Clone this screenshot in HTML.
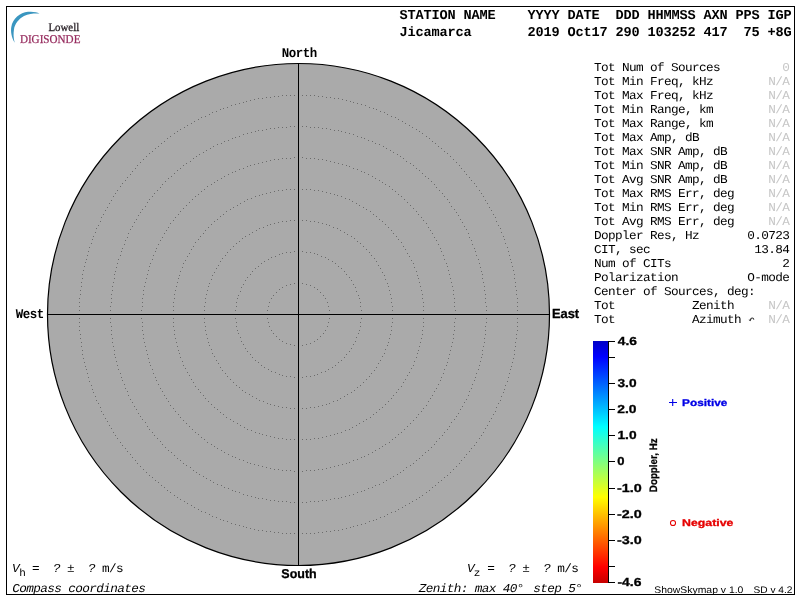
<!DOCTYPE html><html><head><meta charset="utf-8"><style>html,body{margin:0;padding:0;background:#fff;width:800px;height:600px;overflow:hidden}svg{display:block;will-change:transform;text-rendering:geometricPrecision}.m{font-family:"Liberation Mono",monospace}.s{font-family:"Liberation Sans",sans-serif}.r{font-family:"Liberation Serif",serif}</style></head><body>
<svg width="800" height="600" viewBox="0 0 800 600">
<rect x="0" y="0" width="800" height="600" fill="#fff"/>
<path d="M14.7 42.7 C11.5 38 10.5 31 11.3 27 C12.5 19 20 12.5 28 11.8 C33 11.3 37 12.2 39.5 13.5 C35 13.4 29 13.3 24 16 C18.5 19 14.8 24 14 29.3 C13.3 33.5 13.4 38 14.7 42.7 Z" fill="#3a96c0"/>
<text class="r" x="48.49" y="31" font-size="11.61" textLength="30.73" lengthAdjust="spacingAndGlyphs" fill="#2a2228" stroke="#2a2228" stroke-width="0.3" xml:space="preserve">Lowell</text>
<text class="r" x="19.88" y="43" font-size="11.91" textLength="60.57" lengthAdjust="spacingAndGlyphs" fill="#962b5e" stroke="#962b5e" stroke-width="0.25" xml:space="preserve">DIGISONDE</text>
<text class="m" x="399.6" y="19" font-size="13.6" font-weight="bold" letter-spacing="-0.160" xml:space="preserve">STATION NAME    YYYY DATE  DDD HHMMSS AXN PPS IGP</text>
<text class="m" x="399.6" y="36" font-size="13.6" font-weight="bold" letter-spacing="-0.160" xml:space="preserve">Jicamarca       2019 Oct17 290 103252 417  75 +8G</text>
<circle cx="298.5" cy="314.5" r="251" fill="#aaaaaa" stroke="none"/>
<path d="M329 314h1v1h-1zM329 310h1v1h-1zM328 306h1v1h-1zM327 302h1v1h-1zM325 298h1v1h-1zM323 295h1v1h-1zM320 292h1v1h-1zM317 289h1v1h-1zM314 287h1v1h-1zM310 285h1v1h-1zM306 284h1v1h-1zM302 283h1v1h-1zM298 283h1v1h-1zM294 283h1v1h-1zM290 284h1v1h-1zM286 285h1v1h-1zM282 287h1v1h-1zM279 289h1v1h-1zM276 292h1v1h-1zM273 295h1v1h-1zM271 298h1v1h-1zM269 302h1v1h-1zM268 306h1v1h-1zM267 310h1v1h-1zM267 314h1v1h-1zM267 318h1v1h-1zM268 322h1v1h-1zM269 326h1v1h-1zM271 330h1v1h-1zM273 333h1v1h-1zM276 336h1v1h-1zM279 339h1v1h-1zM282 341h1v1h-1zM286 343h1v1h-1zM290 344h1v1h-1zM294 345h1v1h-1zM298 345h1v1h-1zM302 345h1v1h-1zM306 344h1v1h-1zM310 343h1v1h-1zM314 341h1v1h-1zM317 339h1v1h-1zM320 336h1v1h-1zM323 333h1v1h-1zM325 330h1v1h-1zM327 326h1v1h-1zM328 322h1v1h-1zM329 318h1v1h-1zM361 314h1v1h-1zM361 310h1v1h-1zM360 306h1v1h-1zM360 302h1v1h-1zM359 298h1v1h-1zM358 295h1v1h-1zM356 291h1v1h-1zM355 287h1v1h-1zM353 284h1v1h-1zM351 280h1v1h-1zM349 277h1v1h-1zM346 274h1v1h-1zM344 271h1v1h-1zM341 268h1v1h-1zM338 266h1v1h-1zM335 263h1v1h-1zM332 261h1v1h-1zM328 259h1v1h-1zM325 257h1v1h-1zM321 256h1v1h-1zM317 254h1v1h-1zM314 253h1v1h-1zM310 252h1v1h-1zM306 252h1v1h-1zM302 251h1v1h-1zM298 251h1v1h-1zM294 251h1v1h-1zM290 252h1v1h-1zM286 252h1v1h-1zM282 253h1v1h-1zM279 254h1v1h-1zM275 256h1v1h-1zM271 257h1v1h-1zM268 259h1v1h-1zM264 261h1v1h-1zM261 263h1v1h-1zM258 266h1v1h-1zM255 268h1v1h-1zM252 271h1v1h-1zM250 274h1v1h-1zM247 277h1v1h-1zM245 280h1v1h-1zM243 284h1v1h-1zM241 287h1v1h-1zM240 291h1v1h-1zM238 295h1v1h-1zM237 298h1v1h-1zM236 302h1v1h-1zM236 306h1v1h-1zM235 310h1v1h-1zM235 314h1v1h-1zM235 318h1v1h-1zM236 322h1v1h-1zM236 326h1v1h-1zM237 330h1v1h-1zM238 333h1v1h-1zM240 337h1v1h-1zM241 341h1v1h-1zM243 344h1v1h-1zM245 348h1v1h-1zM247 351h1v1h-1zM250 354h1v1h-1zM252 357h1v1h-1zM255 360h1v1h-1zM258 362h1v1h-1zM261 365h1v1h-1zM264 367h1v1h-1zM268 369h1v1h-1zM271 371h1v1h-1zM275 372h1v1h-1zM279 374h1v1h-1zM282 375h1v1h-1zM286 376h1v1h-1zM290 376h1v1h-1zM294 377h1v1h-1zM298 377h1v1h-1zM302 377h1v1h-1zM306 376h1v1h-1zM310 376h1v1h-1zM314 375h1v1h-1zM317 374h1v1h-1zM321 372h1v1h-1zM325 371h1v1h-1zM328 369h1v1h-1zM332 367h1v1h-1zM335 365h1v1h-1zM338 362h1v1h-1zM341 360h1v1h-1zM344 357h1v1h-1zM346 354h1v1h-1zM349 351h1v1h-1zM351 348h1v1h-1zM353 344h1v1h-1zM355 341h1v1h-1zM356 337h1v1h-1zM358 333h1v1h-1zM359 330h1v1h-1zM360 326h1v1h-1zM360 322h1v1h-1zM361 318h1v1h-1zM392 314h1v1h-1zM392 310h1v1h-1zM392 306h1v1h-1zM391 302h1v1h-1zM391 298h1v1h-1zM390 294h1v1h-1zM389 290h1v1h-1zM388 286h1v1h-1zM387 283h1v1h-1zM385 279h1v1h-1zM384 275h1v1h-1zM382 272h1v1h-1zM380 268h1v1h-1zM378 265h1v1h-1zM376 261h1v1h-1zM374 258h1v1h-1zM371 255h1v1h-1zM369 252h1v1h-1zM366 249h1v1h-1zM363 246h1v1h-1zM360 243h1v1h-1zM357 241h1v1h-1zM354 238h1v1h-1zM351 236h1v1h-1zM347 234h1v1h-1zM344 232h1v1h-1zM340 230h1v1h-1zM337 228h1v1h-1zM333 227h1v1h-1zM329 225h1v1h-1zM326 224h1v1h-1zM322 223h1v1h-1zM318 222h1v1h-1zM314 221h1v1h-1zM310 221h1v1h-1zM306 220h1v1h-1zM302 220h1v1h-1zM298 220h1v1h-1zM294 220h1v1h-1zM290 220h1v1h-1zM286 221h1v1h-1zM282 221h1v1h-1zM278 222h1v1h-1zM274 223h1v1h-1zM270 224h1v1h-1zM267 225h1v1h-1zM263 227h1v1h-1zM259 228h1v1h-1zM256 230h1v1h-1zM252 232h1v1h-1zM249 234h1v1h-1zM245 236h1v1h-1zM242 238h1v1h-1zM239 241h1v1h-1zM236 243h1v1h-1zM233 246h1v1h-1zM230 249h1v1h-1zM227 252h1v1h-1zM225 255h1v1h-1zM222 258h1v1h-1zM220 261h1v1h-1zM218 265h1v1h-1zM216 268h1v1h-1zM214 272h1v1h-1zM212 275h1v1h-1zM211 279h1v1h-1zM209 283h1v1h-1zM208 286h1v1h-1zM207 290h1v1h-1zM206 294h1v1h-1zM205 298h1v1h-1zM205 302h1v1h-1zM204 306h1v1h-1zM204 310h1v1h-1zM204 314h1v1h-1zM204 318h1v1h-1zM204 322h1v1h-1zM205 326h1v1h-1zM205 330h1v1h-1zM206 334h1v1h-1zM207 338h1v1h-1zM208 342h1v1h-1zM209 345h1v1h-1zM211 349h1v1h-1zM212 353h1v1h-1zM214 356h1v1h-1zM216 360h1v1h-1zM218 363h1v1h-1zM220 367h1v1h-1zM222 370h1v1h-1zM225 373h1v1h-1zM227 376h1v1h-1zM230 379h1v1h-1zM233 382h1v1h-1zM236 385h1v1h-1zM239 387h1v1h-1zM242 390h1v1h-1zM245 392h1v1h-1zM249 394h1v1h-1zM252 396h1v1h-1zM256 398h1v1h-1zM259 400h1v1h-1zM263 401h1v1h-1zM267 403h1v1h-1zM270 404h1v1h-1zM274 405h1v1h-1zM278 406h1v1h-1zM282 407h1v1h-1zM286 407h1v1h-1zM290 408h1v1h-1zM294 408h1v1h-1zM298 408h1v1h-1zM302 408h1v1h-1zM306 408h1v1h-1zM310 407h1v1h-1zM314 407h1v1h-1zM318 406h1v1h-1zM322 405h1v1h-1zM326 404h1v1h-1zM329 403h1v1h-1zM333 401h1v1h-1zM337 400h1v1h-1zM340 398h1v1h-1zM344 396h1v1h-1zM347 394h1v1h-1zM351 392h1v1h-1zM354 390h1v1h-1zM357 387h1v1h-1zM360 385h1v1h-1zM363 382h1v1h-1zM366 379h1v1h-1zM369 376h1v1h-1zM371 373h1v1h-1zM374 370h1v1h-1zM376 367h1v1h-1zM378 363h1v1h-1zM380 360h1v1h-1zM382 356h1v1h-1zM384 353h1v1h-1zM385 349h1v1h-1zM387 345h1v1h-1zM388 342h1v1h-1zM389 338h1v1h-1zM390 334h1v1h-1zM391 330h1v1h-1zM391 326h1v1h-1zM392 322h1v1h-1zM392 318h1v1h-1zM423 314h1v1h-1zM423 310h1v1h-1zM423 306h1v1h-1zM423 302h1v1h-1zM422 298h1v1h-1zM422 294h1v1h-1zM421 290h1v1h-1zM420 286h1v1h-1zM419 282h1v1h-1zM418 278h1v1h-1zM417 275h1v1h-1zM416 271h1v1h-1zM414 267h1v1h-1zM413 263h1v1h-1zM411 260h1v1h-1zM409 256h1v1h-1zM407 253h1v1h-1zM405 249h1v1h-1zM403 246h1v1h-1zM401 242h1v1h-1zM398 239h1v1h-1zM396 236h1v1h-1zM393 233h1v1h-1zM391 230h1v1h-1zM388 227h1v1h-1zM385 224h1v1h-1zM382 221h1v1h-1zM379 219h1v1h-1zM376 216h1v1h-1zM373 214h1v1h-1zM370 211h1v1h-1zM366 209h1v1h-1zM363 207h1v1h-1zM359 205h1v1h-1zM356 203h1v1h-1zM352 201h1v1h-1zM349 199h1v1h-1zM345 198h1v1h-1zM341 196h1v1h-1zM337 195h1v1h-1zM334 194h1v1h-1zM330 193h1v1h-1zM326 192h1v1h-1zM322 191h1v1h-1zM318 190h1v1h-1zM314 190h1v1h-1zM310 189h1v1h-1zM306 189h1v1h-1zM302 189h1v1h-1zM298 189h1v1h-1zM294 189h1v1h-1zM290 189h1v1h-1zM286 189h1v1h-1zM282 190h1v1h-1zM278 190h1v1h-1zM274 191h1v1h-1zM270 192h1v1h-1zM266 193h1v1h-1zM262 194h1v1h-1zM259 195h1v1h-1zM255 196h1v1h-1zM251 198h1v1h-1zM247 199h1v1h-1zM244 201h1v1h-1zM240 203h1v1h-1zM237 205h1v1h-1zM233 207h1v1h-1zM230 209h1v1h-1zM226 211h1v1h-1zM223 214h1v1h-1zM220 216h1v1h-1zM217 219h1v1h-1zM214 221h1v1h-1zM211 224h1v1h-1zM208 227h1v1h-1zM205 230h1v1h-1zM203 233h1v1h-1zM200 236h1v1h-1zM198 239h1v1h-1zM195 242h1v1h-1zM193 246h1v1h-1zM191 249h1v1h-1zM189 253h1v1h-1zM187 256h1v1h-1zM185 260h1v1h-1zM183 263h1v1h-1zM182 267h1v1h-1zM180 271h1v1h-1zM179 275h1v1h-1zM178 278h1v1h-1zM177 282h1v1h-1zM176 286h1v1h-1zM175 290h1v1h-1zM174 294h1v1h-1zM174 298h1v1h-1zM173 302h1v1h-1zM173 306h1v1h-1zM173 310h1v1h-1zM173 314h1v1h-1zM173 318h1v1h-1zM173 322h1v1h-1zM173 326h1v1h-1zM174 330h1v1h-1zM174 334h1v1h-1zM175 338h1v1h-1zM176 342h1v1h-1zM177 346h1v1h-1zM178 350h1v1h-1zM179 353h1v1h-1zM180 357h1v1h-1zM182 361h1v1h-1zM183 365h1v1h-1zM185 368h1v1h-1zM187 372h1v1h-1zM189 375h1v1h-1zM191 379h1v1h-1zM193 382h1v1h-1zM195 386h1v1h-1zM198 389h1v1h-1zM200 392h1v1h-1zM203 395h1v1h-1zM205 398h1v1h-1zM208 401h1v1h-1zM211 404h1v1h-1zM214 407h1v1h-1zM217 409h1v1h-1zM220 412h1v1h-1zM223 414h1v1h-1zM226 417h1v1h-1zM230 419h1v1h-1zM233 421h1v1h-1zM237 423h1v1h-1zM240 425h1v1h-1zM244 427h1v1h-1zM247 429h1v1h-1zM251 430h1v1h-1zM255 432h1v1h-1zM259 433h1v1h-1zM262 434h1v1h-1zM266 435h1v1h-1zM270 436h1v1h-1zM274 437h1v1h-1zM278 438h1v1h-1zM282 438h1v1h-1zM286 439h1v1h-1zM290 439h1v1h-1zM294 439h1v1h-1zM298 439h1v1h-1zM302 439h1v1h-1zM306 439h1v1h-1zM310 439h1v1h-1zM314 438h1v1h-1zM318 438h1v1h-1zM322 437h1v1h-1zM326 436h1v1h-1zM330 435h1v1h-1zM334 434h1v1h-1zM337 433h1v1h-1zM341 432h1v1h-1zM345 430h1v1h-1zM349 429h1v1h-1zM352 427h1v1h-1zM356 425h1v1h-1zM359 423h1v1h-1zM363 421h1v1h-1zM366 419h1v1h-1zM370 417h1v1h-1zM373 414h1v1h-1zM376 412h1v1h-1zM379 409h1v1h-1zM382 407h1v1h-1zM385 404h1v1h-1zM388 401h1v1h-1zM391 398h1v1h-1zM393 395h1v1h-1zM396 392h1v1h-1zM398 389h1v1h-1zM401 386h1v1h-1zM403 382h1v1h-1zM405 379h1v1h-1zM407 375h1v1h-1zM409 372h1v1h-1zM411 368h1v1h-1zM413 365h1v1h-1zM414 361h1v1h-1zM416 357h1v1h-1zM417 353h1v1h-1zM418 350h1v1h-1zM419 346h1v1h-1zM420 342h1v1h-1zM421 338h1v1h-1zM422 334h1v1h-1zM422 330h1v1h-1zM423 326h1v1h-1zM423 322h1v1h-1zM423 318h1v1h-1zM455 314h1v1h-1zM455 310h1v1h-1zM454 306h1v1h-1zM454 302h1v1h-1zM454 298h1v1h-1zM453 294h1v1h-1zM453 290h1v1h-1zM452 286h1v1h-1zM451 282h1v1h-1zM450 278h1v1h-1zM449 274h1v1h-1zM448 270h1v1h-1zM447 266h1v1h-1zM446 263h1v1h-1zM444 259h1v1h-1zM443 255h1v1h-1zM441 251h1v1h-1zM440 248h1v1h-1zM438 244h1v1h-1zM436 240h1v1h-1zM434 237h1v1h-1zM432 233h1v1h-1zM430 230h1v1h-1zM428 227h1v1h-1zM426 223h1v1h-1zM423 220h1v1h-1zM421 217h1v1h-1zM418 214h1v1h-1zM416 211h1v1h-1zM413 208h1v1h-1zM410 205h1v1h-1zM407 202h1v1h-1zM404 199h1v1h-1zM401 196h1v1h-1zM398 194h1v1h-1zM395 191h1v1h-1zM392 189h1v1h-1zM389 186h1v1h-1zM385 184h1v1h-1zM382 182h1v1h-1zM379 180h1v1h-1zM375 178h1v1h-1zM372 176h1v1h-1zM368 174h1v1h-1zM364 172h1v1h-1zM361 171h1v1h-1zM357 169h1v1h-1zM353 168h1v1h-1zM349 166h1v1h-1zM346 165h1v1h-1zM342 164h1v1h-1zM338 163h1v1h-1zM334 162h1v1h-1zM330 161h1v1h-1zM326 160h1v1h-1zM322 159h1v1h-1zM318 159h1v1h-1zM314 158h1v1h-1zM310 158h1v1h-1zM306 158h1v1h-1zM302 157h1v1h-1zM298 157h1v1h-1zM294 157h1v1h-1zM290 158h1v1h-1zM286 158h1v1h-1zM282 158h1v1h-1zM278 159h1v1h-1zM274 159h1v1h-1zM270 160h1v1h-1zM266 161h1v1h-1zM262 162h1v1h-1zM258 163h1v1h-1zM254 164h1v1h-1zM250 165h1v1h-1zM247 166h1v1h-1zM243 168h1v1h-1zM239 169h1v1h-1zM235 171h1v1h-1zM232 172h1v1h-1zM228 174h1v1h-1zM224 176h1v1h-1zM221 178h1v1h-1zM217 180h1v1h-1zM214 182h1v1h-1zM211 184h1v1h-1zM207 186h1v1h-1zM204 189h1v1h-1zM201 191h1v1h-1zM198 194h1v1h-1zM195 196h1v1h-1zM192 199h1v1h-1zM189 202h1v1h-1zM186 205h1v1h-1zM183 208h1v1h-1zM180 211h1v1h-1zM178 214h1v1h-1zM175 217h1v1h-1zM173 220h1v1h-1zM170 223h1v1h-1zM168 227h1v1h-1zM166 230h1v1h-1zM164 233h1v1h-1zM162 237h1v1h-1zM160 240h1v1h-1zM158 244h1v1h-1zM156 248h1v1h-1zM155 251h1v1h-1zM153 255h1v1h-1zM152 259h1v1h-1zM150 263h1v1h-1zM149 266h1v1h-1zM148 270h1v1h-1zM147 274h1v1h-1zM146 278h1v1h-1zM145 282h1v1h-1zM144 286h1v1h-1zM143 290h1v1h-1zM143 294h1v1h-1zM142 298h1v1h-1zM142 302h1v1h-1zM142 306h1v1h-1zM141 310h1v1h-1zM141 314h1v1h-1zM141 318h1v1h-1zM142 322h1v1h-1zM142 326h1v1h-1zM142 330h1v1h-1zM143 334h1v1h-1zM143 338h1v1h-1zM144 342h1v1h-1zM145 346h1v1h-1zM146 350h1v1h-1zM147 354h1v1h-1zM148 358h1v1h-1zM149 362h1v1h-1zM150 365h1v1h-1zM152 369h1v1h-1zM153 373h1v1h-1zM155 377h1v1h-1zM156 380h1v1h-1zM158 384h1v1h-1zM160 388h1v1h-1zM162 391h1v1h-1zM164 395h1v1h-1zM166 398h1v1h-1zM168 401h1v1h-1zM170 405h1v1h-1zM173 408h1v1h-1zM175 411h1v1h-1zM178 414h1v1h-1zM180 417h1v1h-1zM183 420h1v1h-1zM186 423h1v1h-1zM189 426h1v1h-1zM192 429h1v1h-1zM195 432h1v1h-1zM198 434h1v1h-1zM201 437h1v1h-1zM204 439h1v1h-1zM207 442h1v1h-1zM211 444h1v1h-1zM214 446h1v1h-1zM217 448h1v1h-1zM221 450h1v1h-1zM224 452h1v1h-1zM228 454h1v1h-1zM232 456h1v1h-1zM235 457h1v1h-1zM239 459h1v1h-1zM243 460h1v1h-1zM247 462h1v1h-1zM250 463h1v1h-1zM254 464h1v1h-1zM258 465h1v1h-1zM262 466h1v1h-1zM266 467h1v1h-1zM270 468h1v1h-1zM274 469h1v1h-1zM278 469h1v1h-1zM282 470h1v1h-1zM286 470h1v1h-1zM290 470h1v1h-1zM294 471h1v1h-1zM298 471h1v1h-1zM302 471h1v1h-1zM306 470h1v1h-1zM310 470h1v1h-1zM314 470h1v1h-1zM318 469h1v1h-1zM322 469h1v1h-1zM326 468h1v1h-1zM330 467h1v1h-1zM334 466h1v1h-1zM338 465h1v1h-1zM342 464h1v1h-1zM346 463h1v1h-1zM349 462h1v1h-1zM353 460h1v1h-1zM357 459h1v1h-1zM361 457h1v1h-1zM364 456h1v1h-1zM368 454h1v1h-1zM372 452h1v1h-1zM375 450h1v1h-1zM379 448h1v1h-1zM382 446h1v1h-1zM385 444h1v1h-1zM389 442h1v1h-1zM392 439h1v1h-1zM395 437h1v1h-1zM398 434h1v1h-1zM401 432h1v1h-1zM404 429h1v1h-1zM407 426h1v1h-1zM410 423h1v1h-1zM413 420h1v1h-1zM416 417h1v1h-1zM418 414h1v1h-1zM421 411h1v1h-1zM423 408h1v1h-1zM426 405h1v1h-1zM428 401h1v1h-1zM430 398h1v1h-1zM432 395h1v1h-1zM434 391h1v1h-1zM436 388h1v1h-1zM438 384h1v1h-1zM440 380h1v1h-1zM441 377h1v1h-1zM443 373h1v1h-1zM444 369h1v1h-1zM446 365h1v1h-1zM447 362h1v1h-1zM448 358h1v1h-1zM449 354h1v1h-1zM450 350h1v1h-1zM451 346h1v1h-1zM452 342h1v1h-1zM453 338h1v1h-1zM453 334h1v1h-1zM454 330h1v1h-1zM454 326h1v1h-1zM454 322h1v1h-1zM455 318h1v1h-1zM486 314h1v1h-1zM486 310h1v1h-1zM486 306h1v1h-1zM485 302h1v1h-1zM485 298h1v1h-1zM485 294h1v1h-1zM484 290h1v1h-1zM484 286h1v1h-1zM483 282h1v1h-1zM482 278h1v1h-1zM482 274h1v1h-1zM481 271h1v1h-1zM480 267h1v1h-1zM479 263h1v1h-1zM478 259h1v1h-1zM476 255h1v1h-1zM475 251h1v1h-1zM474 248h1v1h-1zM472 244h1v1h-1zM471 240h1v1h-1zM469 237h1v1h-1zM468 233h1v1h-1zM466 229h1v1h-1zM464 226h1v1h-1zM462 222h1v1h-1zM460 219h1v1h-1zM458 215h1v1h-1zM456 212h1v1h-1zM454 209h1v1h-1zM451 206h1v1h-1zM449 202h1v1h-1zM447 199h1v1h-1zM444 196h1v1h-1zM442 193h1v1h-1zM439 190h1v1h-1zM436 187h1v1h-1zM434 184h1v1h-1zM431 181h1v1h-1zM428 178h1v1h-1zM425 176h1v1h-1zM422 173h1v1h-1zM419 170h1v1h-1zM416 168h1v1h-1zM413 165h1v1h-1zM410 163h1v1h-1zM406 161h1v1h-1zM403 158h1v1h-1zM400 156h1v1h-1zM397 154h1v1h-1zM393 152h1v1h-1zM390 150h1v1h-1zM386 148h1v1h-1zM383 146h1v1h-1zM379 144h1v1h-1zM375 143h1v1h-1zM372 141h1v1h-1zM368 140h1v1h-1zM364 138h1v1h-1zM361 137h1v1h-1zM357 136h1v1h-1zM353 134h1v1h-1zM349 133h1v1h-1zM345 132h1v1h-1zM341 131h1v1h-1zM338 130h1v1h-1zM334 130h1v1h-1zM330 129h1v1h-1zM326 128h1v1h-1zM322 128h1v1h-1zM318 127h1v1h-1zM314 127h1v1h-1zM310 127h1v1h-1zM306 126h1v1h-1zM302 126h1v1h-1zM298 126h1v1h-1zM294 126h1v1h-1zM290 126h1v1h-1zM286 127h1v1h-1zM282 127h1v1h-1zM278 127h1v1h-1zM274 128h1v1h-1zM270 128h1v1h-1zM266 129h1v1h-1zM262 130h1v1h-1zM258 130h1v1h-1zM255 131h1v1h-1zM251 132h1v1h-1zM247 133h1v1h-1zM243 134h1v1h-1zM239 136h1v1h-1zM235 137h1v1h-1zM232 138h1v1h-1zM228 140h1v1h-1zM224 141h1v1h-1zM221 143h1v1h-1zM217 144h1v1h-1zM213 146h1v1h-1zM210 148h1v1h-1zM206 150h1v1h-1zM203 152h1v1h-1zM199 154h1v1h-1zM196 156h1v1h-1zM193 158h1v1h-1zM190 161h1v1h-1zM186 163h1v1h-1zM183 165h1v1h-1zM180 168h1v1h-1zM177 170h1v1h-1zM174 173h1v1h-1zM171 176h1v1h-1zM168 178h1v1h-1zM165 181h1v1h-1zM162 184h1v1h-1zM160 187h1v1h-1zM157 190h1v1h-1zM154 193h1v1h-1zM152 196h1v1h-1zM149 199h1v1h-1zM147 202h1v1h-1zM145 206h1v1h-1zM142 209h1v1h-1zM140 212h1v1h-1zM138 215h1v1h-1zM136 219h1v1h-1zM134 222h1v1h-1zM132 226h1v1h-1zM130 229h1v1h-1zM128 233h1v1h-1zM127 237h1v1h-1zM125 240h1v1h-1zM124 244h1v1h-1zM122 248h1v1h-1zM121 251h1v1h-1zM120 255h1v1h-1zM118 259h1v1h-1zM117 263h1v1h-1zM116 267h1v1h-1zM115 271h1v1h-1zM114 274h1v1h-1zM114 278h1v1h-1zM113 282h1v1h-1zM112 286h1v1h-1zM112 290h1v1h-1zM111 294h1v1h-1zM111 298h1v1h-1zM111 302h1v1h-1zM110 306h1v1h-1zM110 310h1v1h-1zM110 314h1v1h-1zM110 318h1v1h-1zM110 322h1v1h-1zM111 326h1v1h-1zM111 330h1v1h-1zM111 334h1v1h-1zM112 338h1v1h-1zM112 342h1v1h-1zM113 346h1v1h-1zM114 350h1v1h-1zM114 354h1v1h-1zM115 357h1v1h-1zM116 361h1v1h-1zM117 365h1v1h-1zM118 369h1v1h-1zM120 373h1v1h-1zM121 377h1v1h-1zM122 380h1v1h-1zM124 384h1v1h-1zM125 388h1v1h-1zM127 391h1v1h-1zM128 395h1v1h-1zM130 399h1v1h-1zM132 402h1v1h-1zM134 406h1v1h-1zM136 409h1v1h-1zM138 413h1v1h-1zM140 416h1v1h-1zM142 419h1v1h-1zM145 422h1v1h-1zM147 426h1v1h-1zM149 429h1v1h-1zM152 432h1v1h-1zM154 435h1v1h-1zM157 438h1v1h-1zM160 441h1v1h-1zM162 444h1v1h-1zM165 447h1v1h-1zM168 450h1v1h-1zM171 452h1v1h-1zM174 455h1v1h-1zM177 458h1v1h-1zM180 460h1v1h-1zM183 463h1v1h-1zM186 465h1v1h-1zM190 467h1v1h-1zM193 470h1v1h-1zM196 472h1v1h-1zM199 474h1v1h-1zM203 476h1v1h-1zM206 478h1v1h-1zM210 480h1v1h-1zM213 482h1v1h-1zM217 484h1v1h-1zM221 485h1v1h-1zM224 487h1v1h-1zM228 488h1v1h-1zM232 490h1v1h-1zM235 491h1v1h-1zM239 492h1v1h-1zM243 494h1v1h-1zM247 495h1v1h-1zM251 496h1v1h-1zM255 497h1v1h-1zM258 498h1v1h-1zM262 498h1v1h-1zM266 499h1v1h-1zM270 500h1v1h-1zM274 500h1v1h-1zM278 501h1v1h-1zM282 501h1v1h-1zM286 501h1v1h-1zM290 502h1v1h-1zM294 502h1v1h-1zM298 502h1v1h-1zM302 502h1v1h-1zM306 502h1v1h-1zM310 501h1v1h-1zM314 501h1v1h-1zM318 501h1v1h-1zM322 500h1v1h-1zM326 500h1v1h-1zM330 499h1v1h-1zM334 498h1v1h-1zM338 498h1v1h-1zM341 497h1v1h-1zM345 496h1v1h-1zM349 495h1v1h-1zM353 494h1v1h-1zM357 492h1v1h-1zM361 491h1v1h-1zM364 490h1v1h-1zM368 488h1v1h-1zM372 487h1v1h-1zM375 485h1v1h-1zM379 484h1v1h-1zM383 482h1v1h-1zM386 480h1v1h-1zM390 478h1v1h-1zM393 476h1v1h-1zM397 474h1v1h-1zM400 472h1v1h-1zM403 470h1v1h-1zM406 467h1v1h-1zM410 465h1v1h-1zM413 463h1v1h-1zM416 460h1v1h-1zM419 458h1v1h-1zM422 455h1v1h-1zM425 452h1v1h-1zM428 450h1v1h-1zM431 447h1v1h-1zM434 444h1v1h-1zM436 441h1v1h-1zM439 438h1v1h-1zM442 435h1v1h-1zM444 432h1v1h-1zM447 429h1v1h-1zM449 426h1v1h-1zM451 422h1v1h-1zM454 419h1v1h-1zM456 416h1v1h-1zM458 413h1v1h-1zM460 409h1v1h-1zM462 406h1v1h-1zM464 402h1v1h-1zM466 399h1v1h-1zM468 395h1v1h-1zM469 391h1v1h-1zM471 388h1v1h-1zM472 384h1v1h-1zM474 380h1v1h-1zM475 377h1v1h-1zM476 373h1v1h-1zM478 369h1v1h-1zM479 365h1v1h-1zM480 361h1v1h-1zM481 357h1v1h-1zM482 354h1v1h-1zM482 350h1v1h-1zM483 346h1v1h-1zM484 342h1v1h-1zM484 338h1v1h-1zM485 334h1v1h-1zM485 330h1v1h-1zM485 326h1v1h-1zM486 322h1v1h-1zM486 318h1v1h-1zM517 314h1v1h-1zM517 310h1v1h-1zM517 306h1v1h-1zM517 302h1v1h-1zM517 298h1v1h-1zM516 294h1v1h-1zM516 290h1v1h-1zM515 286h1v1h-1zM515 282h1v1h-1zM514 278h1v1h-1zM514 274h1v1h-1zM513 270h1v1h-1zM512 266h1v1h-1zM511 262h1v1h-1zM510 259h1v1h-1zM509 255h1v1h-1zM508 251h1v1h-1zM507 247h1v1h-1zM505 243h1v1h-1zM504 239h1v1h-1zM503 236h1v1h-1zM501 232h1v1h-1zM500 228h1v1h-1zM498 225h1v1h-1zM496 221h1v1h-1zM495 217h1v1h-1zM493 214h1v1h-1zM491 210h1v1h-1zM489 207h1v1h-1zM487 203h1v1h-1zM485 200h1v1h-1zM483 196h1v1h-1zM481 193h1v1h-1zM479 190h1v1h-1zM476 186h1v1h-1zM474 183h1v1h-1zM471 180h1v1h-1zM469 177h1v1h-1zM466 174h1v1h-1zM464 171h1v1h-1zM461 168h1v1h-1zM459 165h1v1h-1zM456 162h1v1h-1zM453 159h1v1h-1zM450 156h1v1h-1zM447 153h1v1h-1zM444 151h1v1h-1zM441 148h1v1h-1zM438 146h1v1h-1zM435 143h1v1h-1zM432 141h1v1h-1zM429 138h1v1h-1zM426 136h1v1h-1zM422 133h1v1h-1zM419 131h1v1h-1zM416 129h1v1h-1zM412 127h1v1h-1zM409 125h1v1h-1zM405 123h1v1h-1zM402 121h1v1h-1zM398 119h1v1h-1zM395 117h1v1h-1zM391 116h1v1h-1zM387 114h1v1h-1zM384 112h1v1h-1zM380 111h1v1h-1zM376 109h1v1h-1zM373 108h1v1h-1zM369 107h1v1h-1zM365 105h1v1h-1zM361 104h1v1h-1zM357 103h1v1h-1zM353 102h1v1h-1zM350 101h1v1h-1zM346 100h1v1h-1zM342 99h1v1h-1zM338 98h1v1h-1zM334 98h1v1h-1zM330 97h1v1h-1zM326 97h1v1h-1zM322 96h1v1h-1zM318 96h1v1h-1zM314 95h1v1h-1zM310 95h1v1h-1zM306 95h1v1h-1zM302 95h1v1h-1zM298 95h1v1h-1zM294 95h1v1h-1zM290 95h1v1h-1zM286 95h1v1h-1zM282 95h1v1h-1zM278 96h1v1h-1zM274 96h1v1h-1zM270 97h1v1h-1zM266 97h1v1h-1zM262 98h1v1h-1zM258 98h1v1h-1zM254 99h1v1h-1zM250 100h1v1h-1zM246 101h1v1h-1zM243 102h1v1h-1zM239 103h1v1h-1zM235 104h1v1h-1zM231 105h1v1h-1zM227 107h1v1h-1zM223 108h1v1h-1zM220 109h1v1h-1zM216 111h1v1h-1zM212 112h1v1h-1zM209 114h1v1h-1zM205 116h1v1h-1zM201 117h1v1h-1zM198 119h1v1h-1zM194 121h1v1h-1zM191 123h1v1h-1zM187 125h1v1h-1zM184 127h1v1h-1zM180 129h1v1h-1zM177 131h1v1h-1zM174 133h1v1h-1zM170 136h1v1h-1zM167 138h1v1h-1zM164 141h1v1h-1zM161 143h1v1h-1zM158 146h1v1h-1zM155 148h1v1h-1zM152 151h1v1h-1zM149 153h1v1h-1zM146 156h1v1h-1zM143 159h1v1h-1zM140 162h1v1h-1zM137 165h1v1h-1zM135 168h1v1h-1zM132 171h1v1h-1zM130 174h1v1h-1zM127 177h1v1h-1zM125 180h1v1h-1zM122 183h1v1h-1zM120 186h1v1h-1zM117 190h1v1h-1zM115 193h1v1h-1zM113 196h1v1h-1zM111 200h1v1h-1zM109 203h1v1h-1zM107 207h1v1h-1zM105 210h1v1h-1zM103 214h1v1h-1zM101 217h1v1h-1zM100 221h1v1h-1zM98 225h1v1h-1zM96 228h1v1h-1zM95 232h1v1h-1zM93 236h1v1h-1zM92 239h1v1h-1zM91 243h1v1h-1zM89 247h1v1h-1zM88 251h1v1h-1zM87 255h1v1h-1zM86 259h1v1h-1zM85 262h1v1h-1zM84 266h1v1h-1zM83 270h1v1h-1zM82 274h1v1h-1zM82 278h1v1h-1zM81 282h1v1h-1zM81 286h1v1h-1zM80 290h1v1h-1zM80 294h1v1h-1zM79 298h1v1h-1zM79 302h1v1h-1zM79 306h1v1h-1zM79 310h1v1h-1zM79 314h1v1h-1zM79 318h1v1h-1zM79 322h1v1h-1zM79 326h1v1h-1zM79 330h1v1h-1zM80 334h1v1h-1zM80 338h1v1h-1zM81 342h1v1h-1zM81 346h1v1h-1zM82 350h1v1h-1zM82 354h1v1h-1zM83 358h1v1h-1zM84 362h1v1h-1zM85 366h1v1h-1zM86 369h1v1h-1zM87 373h1v1h-1zM88 377h1v1h-1zM89 381h1v1h-1zM91 385h1v1h-1zM92 389h1v1h-1zM93 392h1v1h-1zM95 396h1v1h-1zM96 400h1v1h-1zM98 403h1v1h-1zM100 407h1v1h-1zM101 411h1v1h-1zM103 414h1v1h-1zM105 418h1v1h-1zM107 421h1v1h-1zM109 425h1v1h-1zM111 428h1v1h-1zM113 432h1v1h-1zM115 435h1v1h-1zM117 438h1v1h-1zM120 442h1v1h-1zM122 445h1v1h-1zM125 448h1v1h-1zM127 451h1v1h-1zM130 454h1v1h-1zM132 457h1v1h-1zM135 460h1v1h-1zM137 463h1v1h-1zM140 466h1v1h-1zM143 469h1v1h-1zM146 472h1v1h-1zM149 475h1v1h-1zM152 477h1v1h-1zM155 480h1v1h-1zM158 482h1v1h-1zM161 485h1v1h-1zM164 487h1v1h-1zM167 490h1v1h-1zM170 492h1v1h-1zM174 495h1v1h-1zM177 497h1v1h-1zM180 499h1v1h-1zM184 501h1v1h-1zM187 503h1v1h-1zM191 505h1v1h-1zM194 507h1v1h-1zM198 509h1v1h-1zM201 511h1v1h-1zM205 512h1v1h-1zM209 514h1v1h-1zM212 516h1v1h-1zM216 517h1v1h-1zM220 519h1v1h-1zM223 520h1v1h-1zM227 521h1v1h-1zM231 523h1v1h-1zM235 524h1v1h-1zM239 525h1v1h-1zM243 526h1v1h-1zM246 527h1v1h-1zM250 528h1v1h-1zM254 529h1v1h-1zM258 530h1v1h-1zM262 530h1v1h-1zM266 531h1v1h-1zM270 531h1v1h-1zM274 532h1v1h-1zM278 532h1v1h-1zM282 533h1v1h-1zM286 533h1v1h-1zM290 533h1v1h-1zM294 533h1v1h-1zM298 533h1v1h-1zM302 533h1v1h-1zM306 533h1v1h-1zM310 533h1v1h-1zM314 533h1v1h-1zM318 532h1v1h-1zM322 532h1v1h-1zM326 531h1v1h-1zM330 531h1v1h-1zM334 530h1v1h-1zM338 530h1v1h-1zM342 529h1v1h-1zM346 528h1v1h-1zM350 527h1v1h-1zM353 526h1v1h-1zM357 525h1v1h-1zM361 524h1v1h-1zM365 523h1v1h-1zM369 521h1v1h-1zM373 520h1v1h-1zM376 519h1v1h-1zM380 517h1v1h-1zM384 516h1v1h-1zM387 514h1v1h-1zM391 512h1v1h-1zM395 511h1v1h-1zM398 509h1v1h-1zM402 507h1v1h-1zM405 505h1v1h-1zM409 503h1v1h-1zM412 501h1v1h-1zM416 499h1v1h-1zM419 497h1v1h-1zM422 495h1v1h-1zM426 492h1v1h-1zM429 490h1v1h-1zM432 487h1v1h-1zM435 485h1v1h-1zM438 482h1v1h-1zM441 480h1v1h-1zM444 477h1v1h-1zM447 475h1v1h-1zM450 472h1v1h-1zM453 469h1v1h-1zM456 466h1v1h-1zM459 463h1v1h-1zM461 460h1v1h-1zM464 457h1v1h-1zM466 454h1v1h-1zM469 451h1v1h-1zM471 448h1v1h-1zM474 445h1v1h-1zM476 442h1v1h-1zM479 438h1v1h-1zM481 435h1v1h-1zM483 432h1v1h-1zM485 428h1v1h-1zM487 425h1v1h-1zM489 421h1v1h-1zM491 418h1v1h-1zM493 414h1v1h-1zM495 411h1v1h-1zM496 407h1v1h-1zM498 403h1v1h-1zM500 400h1v1h-1zM501 396h1v1h-1zM503 392h1v1h-1zM504 389h1v1h-1zM505 385h1v1h-1zM507 381h1v1h-1zM508 377h1v1h-1zM509 373h1v1h-1zM510 369h1v1h-1zM511 366h1v1h-1zM512 362h1v1h-1zM513 358h1v1h-1zM514 354h1v1h-1zM514 350h1v1h-1zM515 346h1v1h-1zM515 342h1v1h-1zM516 338h1v1h-1zM516 334h1v1h-1zM517 330h1v1h-1zM517 326h1v1h-1zM517 322h1v1h-1zM517 318h1v1h-1z" fill="#6c6c6c"/>
<circle cx="298.5" cy="314.5" r="251" fill="none" stroke="#000" stroke-width="1.2"/>
<line x1="298.5" y1="63.5" x2="298.5" y2="565.5" stroke="#000" stroke-width="1"/>
<line x1="47.5" y1="314.5" x2="549.5" y2="314.5" stroke="#000" stroke-width="1"/>
<rect x="6.5" y="6.5" width="788" height="588" fill="none" stroke="#000" stroke-width="1"/>
<text class="m" x="0" y="0" font-size="13.4" letter-spacing="-0.513" transform="matrix(0.93 0 0 1 281.7 57)" font-weight="bold" xml:space="preserve">North</text>
<text class="m" x="0" y="0" font-size="13.4" letter-spacing="-0.513" transform="matrix(0.93 0 0 1 15.7 318)" font-weight="bold" xml:space="preserve">West</text>
<text class="s" x="551.89" y="318" font-size="13.08" font-weight="bold" textLength="27.27" lengthAdjust="spacingAndGlyphs"  stroke="#000" stroke-width="0.3" xml:space="preserve">East</text>
<text class="s" x="281.34" y="578" font-size="12.79" font-weight="bold" textLength="35.33" lengthAdjust="spacingAndGlyphs"  stroke="#000" stroke-width="0.3" xml:space="preserve">South</text>
<text class="m" x="0" y="0" font-size="12.0" letter-spacing="-0.596" transform="matrix(1.06 0 0 1 594 71)"  xml:space="preserve">Tot Num of Sources</text>
<text class="m" x="0" y="0" font-size="12.0" letter-spacing="-0.596" transform="matrix(1.06 0 0 1 782.3 71)" fill="#c6c6c6" xml:space="preserve">0</text>
<text class="m" x="0" y="0" font-size="12.0" letter-spacing="-0.596" transform="matrix(1.06 0 0 1 594 85)"  xml:space="preserve">Tot Min Freq, kHz</text>
<text class="m" x="0" y="0" font-size="12.0" letter-spacing="-0.596" transform="matrix(1.06 0 0 1 768.3 85)" fill="#c6c6c6" xml:space="preserve">N/A</text>
<text class="m" x="0" y="0" font-size="12.0" letter-spacing="-0.596" transform="matrix(1.06 0 0 1 594 99)"  xml:space="preserve">Tot Max Freq, kHz</text>
<text class="m" x="0" y="0" font-size="12.0" letter-spacing="-0.596" transform="matrix(1.06 0 0 1 768.3 99)" fill="#c6c6c6" xml:space="preserve">N/A</text>
<text class="m" x="0" y="0" font-size="12.0" letter-spacing="-0.596" transform="matrix(1.06 0 0 1 594 113)"  xml:space="preserve">Tot Min Range, km</text>
<text class="m" x="0" y="0" font-size="12.0" letter-spacing="-0.596" transform="matrix(1.06 0 0 1 768.3 113)" fill="#c6c6c6" xml:space="preserve">N/A</text>
<text class="m" x="0" y="0" font-size="12.0" letter-spacing="-0.596" transform="matrix(1.06 0 0 1 594 127)"  xml:space="preserve">Tot Max Range, km</text>
<text class="m" x="0" y="0" font-size="12.0" letter-spacing="-0.596" transform="matrix(1.06 0 0 1 768.3 127)" fill="#c6c6c6" xml:space="preserve">N/A</text>
<text class="m" x="0" y="0" font-size="12.0" letter-spacing="-0.596" transform="matrix(1.06 0 0 1 594 141)"  xml:space="preserve">Tot Max Amp, dB</text>
<text class="m" x="0" y="0" font-size="12.0" letter-spacing="-0.596" transform="matrix(1.06 0 0 1 768.3 141)" fill="#c6c6c6" xml:space="preserve">N/A</text>
<text class="m" x="0" y="0" font-size="12.0" letter-spacing="-0.596" transform="matrix(1.06 0 0 1 594 155)"  xml:space="preserve">Tot Max SNR Amp, dB</text>
<text class="m" x="0" y="0" font-size="12.0" letter-spacing="-0.596" transform="matrix(1.06 0 0 1 768.3 155)" fill="#c6c6c6" xml:space="preserve">N/A</text>
<text class="m" x="0" y="0" font-size="12.0" letter-spacing="-0.596" transform="matrix(1.06 0 0 1 594 169)"  xml:space="preserve">Tot Min SNR Amp, dB</text>
<text class="m" x="0" y="0" font-size="12.0" letter-spacing="-0.596" transform="matrix(1.06 0 0 1 768.3 169)" fill="#c6c6c6" xml:space="preserve">N/A</text>
<text class="m" x="0" y="0" font-size="12.0" letter-spacing="-0.596" transform="matrix(1.06 0 0 1 594 183)"  xml:space="preserve">Tot Avg SNR Amp, dB</text>
<text class="m" x="0" y="0" font-size="12.0" letter-spacing="-0.596" transform="matrix(1.06 0 0 1 768.3 183)" fill="#c6c6c6" xml:space="preserve">N/A</text>
<text class="m" x="0" y="0" font-size="12.0" letter-spacing="-0.596" transform="matrix(1.06 0 0 1 594 197)"  xml:space="preserve">Tot Max RMS Err, deg</text>
<text class="m" x="0" y="0" font-size="12.0" letter-spacing="-0.596" transform="matrix(1.06 0 0 1 768.3 197)" fill="#c6c6c6" xml:space="preserve">N/A</text>
<text class="m" x="0" y="0" font-size="12.0" letter-spacing="-0.596" transform="matrix(1.06 0 0 1 594 211)"  xml:space="preserve">Tot Min RMS Err, deg</text>
<text class="m" x="0" y="0" font-size="12.0" letter-spacing="-0.596" transform="matrix(1.06 0 0 1 768.3 211)" fill="#c6c6c6" xml:space="preserve">N/A</text>
<text class="m" x="0" y="0" font-size="12.0" letter-spacing="-0.596" transform="matrix(1.06 0 0 1 594 225)"  xml:space="preserve">Tot Avg RMS Err, deg</text>
<text class="m" x="0" y="0" font-size="12.0" letter-spacing="-0.596" transform="matrix(1.06 0 0 1 768.3 225)" fill="#c6c6c6" xml:space="preserve">N/A</text>
<text class="m" x="0" y="0" font-size="12.0" letter-spacing="-0.596" transform="matrix(1.06 0 0 1 594 239)"  xml:space="preserve">Doppler Res, Hz</text>
<text class="m" x="0" y="0" font-size="12.0" letter-spacing="-0.596" transform="matrix(1.06 0 0 1 747.3 239)" fill="#000" xml:space="preserve">0.0723</text>
<text class="m" x="0" y="0" font-size="12.0" letter-spacing="-0.596" transform="matrix(1.06 0 0 1 594 253)"  xml:space="preserve">CIT, sec</text>
<text class="m" x="0" y="0" font-size="12.0" letter-spacing="-0.596" transform="matrix(1.06 0 0 1 754.3 253)" fill="#000" xml:space="preserve">13.84</text>
<text class="m" x="0" y="0" font-size="12.0" letter-spacing="-0.596" transform="matrix(1.06 0 0 1 594 267)"  xml:space="preserve">Num of CITs</text>
<text class="m" x="0" y="0" font-size="12.0" letter-spacing="-0.596" transform="matrix(1.06 0 0 1 782.3 267)" fill="#000" xml:space="preserve">2</text>
<text class="m" x="0" y="0" font-size="12.0" letter-spacing="-0.596" transform="matrix(1.06 0 0 1 594 281)"  xml:space="preserve">Polarization</text>
<text class="m" x="0" y="0" font-size="12.0" letter-spacing="-0.596" transform="matrix(1.06 0 0 1 747.3 281)" fill="#000" xml:space="preserve">O-mode</text>
<text class="m" x="0" y="0" font-size="12.0" letter-spacing="-0.596" transform="matrix(1.06 0 0 1 594 295)"  xml:space="preserve">Center of Sources, deg:</text>
<text class="m" x="0" y="0" font-size="12.0" letter-spacing="-0.596" transform="matrix(1.06 0 0 1 594 309)"  xml:space="preserve">Tot</text>
<text class="m" x="0" y="0" font-size="12.0" letter-spacing="-0.596" transform="matrix(1.06 0 0 1 768.3 309)" fill="#c6c6c6" xml:space="preserve">N/A</text>
<text class="m" x="0" y="0" font-size="12.0" letter-spacing="-0.596" transform="matrix(1.06 0 0 1 594 323)"  xml:space="preserve">Tot</text>
<text class="m" x="0" y="0" font-size="12.0" letter-spacing="-0.596" transform="matrix(1.06 0 0 1 768.3 323)" fill="#c6c6c6" xml:space="preserve">N/A</text>
<text class="m" x="0" y="0" font-size="12.0" letter-spacing="-0.596" transform="matrix(1.06 0 0 1 692 309)"  xml:space="preserve">Zenith</text>
<text class="m" x="0" y="0" font-size="12.0" letter-spacing="-0.596" transform="matrix(1.06 0 0 1 692 323)"  xml:space="preserve">Azimuth</text>
<path d="M750.3 320.3 C750.8 317.6 753.2 317.2 753.9 319.6" fill="none" stroke="#333" stroke-width="1.1"/><path d="M748.5 319.8 L750.2 321.2 L751.4 319.6 Z" fill="#333"/>
<defs><linearGradient id="jet" x1="0" y1="0" x2="0" y2="1"><stop offset="0" stop-color="#0000c6"/><stop offset="0.065" stop-color="#0000ff"/><stop offset="0.355" stop-color="#00ffff"/><stop offset="0.5" stop-color="#80ff80"/><stop offset="0.645" stop-color="#ffff00"/><stop offset="0.935" stop-color="#ff0000"/><stop offset="1" stop-color="#c60000"/></linearGradient></defs>
<rect x="593" y="341" width="15" height="242" fill="url(#jet)"/>
<line x1="608.5" y1="341" x2="608.5" y2="583" stroke="#000" stroke-width="1"/>
<line x1="608" y1="341.5" x2="615" y2="341.5" stroke="#000" stroke-width="1"/>
<line x1="608" y1="357.5" x2="615" y2="357.5" stroke="#000" stroke-width="1"/>
<line x1="608" y1="383.5" x2="615" y2="383.5" stroke="#000" stroke-width="1"/>
<line x1="608" y1="409.5" x2="615" y2="409.5" stroke="#000" stroke-width="1"/>
<line x1="608" y1="435.5" x2="615" y2="435.5" stroke="#000" stroke-width="1"/>
<line x1="608" y1="461.5" x2="615" y2="461.5" stroke="#000" stroke-width="1"/>
<line x1="608" y1="488.5" x2="615" y2="488.5" stroke="#000" stroke-width="1"/>
<line x1="608" y1="514.5" x2="615" y2="514.5" stroke="#000" stroke-width="1"/>
<line x1="608" y1="540.5" x2="615" y2="540.5" stroke="#000" stroke-width="1"/>
<line x1="608" y1="566.5" x2="615" y2="566.5" stroke="#000" stroke-width="1"/>
<line x1="608" y1="582.5" x2="615" y2="582.5" stroke="#000" stroke-width="1"/>
<text class="s" x="617.79" y="345" font-size="11.63" font-weight="bold" textLength="19.1" lengthAdjust="spacingAndGlyphs"  stroke="#000" stroke-width="0.3" xml:space="preserve">4.6</text>
<text class="s" x="617.49" y="387" font-size="11.63" font-weight="bold" textLength="19.08" lengthAdjust="spacingAndGlyphs"  stroke="#000" stroke-width="0.3" xml:space="preserve">3.0</text>
<text class="s" x="617.32" y="413" font-size="11.63" font-weight="bold" textLength="19.25" lengthAdjust="spacingAndGlyphs"  stroke="#000" stroke-width="0.3" xml:space="preserve">2.0</text>
<text class="s" x="617.43" y="439" font-size="11.63" font-weight="bold" textLength="19.13" lengthAdjust="spacingAndGlyphs"  stroke="#000" stroke-width="0.3" xml:space="preserve">1.0</text>
<text class="s" x="617.28" y="465" font-size="11.63" font-weight="bold" textLength="7.25" lengthAdjust="spacingAndGlyphs"  stroke="#000" stroke-width="0.3" xml:space="preserve">0</text>
<text class="s" x="617.04" y="492" font-size="11.63" font-weight="bold" textLength="24.75" lengthAdjust="spacingAndGlyphs"  stroke="#000" stroke-width="0.3" xml:space="preserve">-1.0</text>
<text class="s" x="617.04" y="518" font-size="11.63" font-weight="bold" textLength="24.75" lengthAdjust="spacingAndGlyphs"  stroke="#000" stroke-width="0.3" xml:space="preserve">-2.0</text>
<text class="s" x="617.04" y="544" font-size="11.63" font-weight="bold" textLength="24.75" lengthAdjust="spacingAndGlyphs"  stroke="#000" stroke-width="0.3" xml:space="preserve">-3.0</text>
<text class="s" x="617.46" y="586" font-size="11.63" font-weight="bold" textLength="23.94" lengthAdjust="spacingAndGlyphs"  stroke="#000" stroke-width="0.3" xml:space="preserve">-4.6</text>
<text class="s" x="-0.65" y="0" font-size="10.76" font-weight="bold" textLength="53.8" lengthAdjust="spacingAndGlyphs" transform="translate(656.7 491.5) rotate(-90)"  stroke="#000" stroke-width="0.3" xml:space="preserve">Doppler, Hz</text>
<path d="M669 402.5 H677 M672.7 399 V406" stroke="#0000e6" stroke-width="1.1"/>
<text class="s" x="682.11" y="406" font-size="9.74" font-weight="bold" textLength="45.29" lengthAdjust="spacingAndGlyphs" fill="#0000e6" stroke="#0000e6" stroke-width="0.3" xml:space="preserve">Positive</text>
<circle cx="673" cy="523" r="2.55" fill="none" stroke="#e60000" stroke-width="1.05"/>
<text class="s" x="682.08" y="526" font-size="9.74" font-weight="bold" textLength="51.34" lengthAdjust="spacingAndGlyphs" fill="#e60000" stroke="#e60000" stroke-width="0.3" xml:space="preserve">Negative</text>
<text class="m" x="0" y="0" font-size="12.0" letter-spacing="-0.596" transform="matrix(1.06 0 0 1 12 572)" font-style="italic" xml:space="preserve">V</text>
<text class="m" x="0" y="0" font-size="10.5" letter-spacing="-0.014" transform="matrix(1.05 0 0 1 19.2 576)"  xml:space="preserve">h</text>
<text class="m" x="0" y="0" font-size="12.0" letter-spacing="-0.596" transform="matrix(1.06 0 0 1 32 572)"  xml:space="preserve">=  <tspan font-style="italic">?</tspan> ±  <tspan font-style="italic">?</tspan> m/s</text>
<text class="m" x="0" y="0" font-size="12.0" letter-spacing="-0.596" transform="matrix(1.06 0 0 1 467 572)" font-style="italic" xml:space="preserve">V</text>
<text class="m" x="0" y="0" font-size="10.5" letter-spacing="-0.014" transform="matrix(1.05 0 0 1 473.8 576)"  xml:space="preserve">z</text>
<text class="m" x="0" y="0" font-size="12.0" letter-spacing="-0.596" transform="matrix(1.06 0 0 1 487.3 572)"  xml:space="preserve">=  <tspan font-style="italic">?</tspan> ±  <tspan font-style="italic">?</tspan> m/s</text>
<text class="m" x="0" y="0" font-size="12.0" letter-spacing="-0.596" transform="matrix(1.06 0 0 1 12.3 592)" font-style="italic" xml:space="preserve">Compass coordinates</text>
<text class="m" x="0" y="0" font-size="12.0" letter-spacing="-0.596" transform="matrix(1.06 0 0 1 418.8 592)" font-style="italic" xml:space="preserve">Zenith: max 40°</text>
<text class="m" x="0" y="0" font-size="12.0" letter-spacing="-0.596" transform="matrix(1.06 0 0 1 533.3 592)" font-style="italic" xml:space="preserve">step 5°</text>
<text class="s" x="654.33" y="593" font-size="9.59" textLength="89.08" lengthAdjust="spacingAndGlyphs"  xml:space="preserve">ShowSkymap v 1.0</text>
<text class="s" x="753.54" y="593" font-size="9.59" textLength="38.97" lengthAdjust="spacingAndGlyphs"  xml:space="preserve">SD v 4.2</text>
</svg></body></html>
